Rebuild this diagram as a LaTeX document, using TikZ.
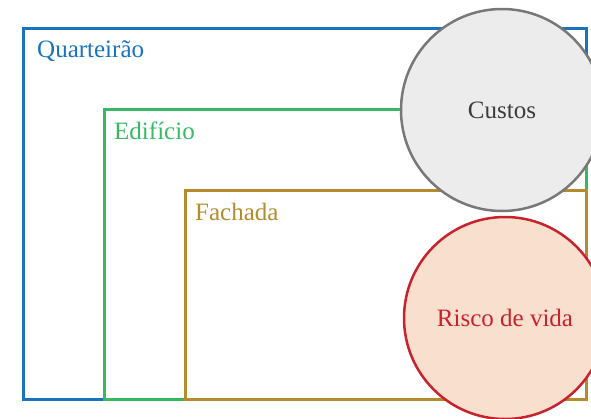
\documentclass[tikz,border=0pt]{standalone}
\usepackage{fontspec}
\setmainfont{Liberation Serif}
\usepackage{tikz}
\definecolor{edge_blue}{RGB}{25,115,190}
\definecolor{edge_green}{RGB}{55,185,100}
\definecolor{edge_gold}{RGB}{180,140,45}
\definecolor{edge_gray}{RGB}{120,120,120}
\definecolor{node_gray}{RGB}{236,236,236}
\definecolor{text_gray}{RGB}{60,60,60}
\definecolor{edge_red}{RGB}{200,35,45}
\definecolor{node_red}{RGB}{249,223,206}

\begin{document}
\begin{tikzpicture}[x=1pt,y=-1pt,font=\fontsize{25}{30}\selectfont]
    \tikzstyle{box}=[draw, rectangle, line width=3pt, inner sep=0pt, outer sep=0pt, anchor=north west, fill=none]
    \tikzstyle{lbl}=[anchor=base west, inner sep=0pt]
    \tikzstyle{node}=[draw=edge_gray, circle, line width=2.5pt, minimum size=202pt, inner sep=0pt, text=text_gray]
    \tikzstyle{cost}=[style=node, fill=node_gray, draw=edge_gray, text=text_gray]
    \tikzstyle{risk}=[style=node, fill=node_red, draw=edge_red, text=edge_red]

    \useasboundingbox (0,0) rectangle (591,418);
    \clip (0,0) rectangle (591,418);

    \node[box, draw=edge_blue, minimum width=562.5pt, minimum height=370.5pt]  (quart) at (23.5,28.5)  {};
    \node[box, draw=edge_green, minimum width=481.5pt, minimum height=289.5pt] (edif)  at (104.5,109.5) {};
    \node[box, draw=edge_gold, minimum width=401pt, minimum height=208.5pt]    (fach)  at (185,190.5)  {};

    \node[lbl, text=edge_blue]  (quart_lbl) at (37,57)   {Quarteirão};
    \node[lbl, text=edge_green] (edif_lbl)  at (114,139) {Edifício};
    \node[lbl, text=edge_gold]  (fach_lbl)  at (195,220) {Fachada};

    \node[cost] (custos) at (502,110) {Custos};
    \node[risk] (risco)  at (505,318) {Risco de vida};
\end{tikzpicture}
\end{document}
